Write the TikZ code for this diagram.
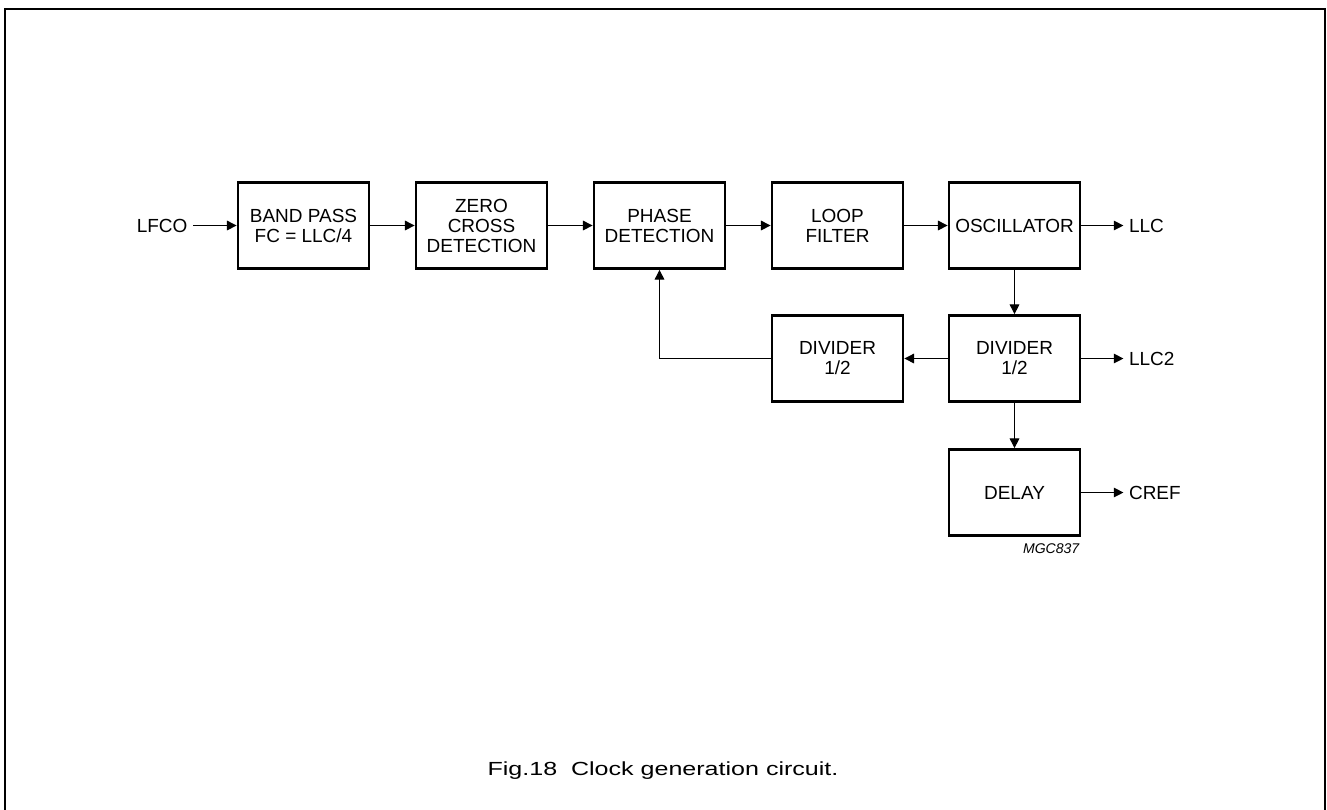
\documentclass[tikz,border=0pt]{standalone}
\usepackage{fontspec}
\setmainfont{Liberation Sans}
\usetikzlibrary{positioning, arrows.meta, shapes}

\begin{document}
\begin{tikzpicture}[every node/.style={font=\fontsize{10.8}{11.4}\selectfont},
	block/.style={draw,line width=1.6pt,minimum width=2.62cm,minimum height=1.72cm,align=center,inner sep=0pt},
	sig/.style={line width=0.6pt,-{Triangle[length=5.5pt,width=5.5pt]}}]
\useasboundingbox (0,0) rectangle (26.54cm,-16.18cm);
\draw[line width=1.1pt] (0.1cm,-16.3cm) -- (0.1cm,-0.18cm) -- (26.5cm,-0.18cm) -- (26.5cm,-16.3cm);

\node(band)[block] at (6.07cm,-4.51cm) {BAND PASS\\FC = LLC/4};
\node(zero)[block,xshift=3.56cm] at (band) {ZERO\\CROSS\\DETECTION};
\node(phase)[block,xshift=3.56cm] at (zero) {PHASE\\DETECTION};
\node(loop)[block,xshift=3.56cm] at (phase) {LOOP\\FILTER};
\node(osc)[block,xshift=3.54cm] at (loop) {OSCILLATOR};

\node(divb)[block,yshift=-2.66cm] at (osc) {DIVIDER\\1/2};
\node(diva)[block,yshift=-2.66cm] at (loop) {DIVIDER\\1/2};
\node(delay)[block,yshift=-2.68cm] at (divb) {DELAY};
\node(mgc)[anchor=north east,font=\fontsize{8}{9}\selectfont\itshape,inner sep=1pt] at ([yshift=-0.1cm]delay.south east) {MGC837};

\node(lfco)[anchor=east,inner sep=3pt] at (3.86cm,-4.51cm) {LFCO};
\node(llc)[anchor=west,inner sep=3pt] at ([xshift=0.84cm]osc.east) {LLC};
\node(llc2)[anchor=west,inner sep=3pt] at ([xshift=0.84cm]divb.east) {LLC2};
\node(cref)[anchor=west,inner sep=3pt] at ([xshift=0.84cm]delay.east) {CREF};

\coordinate(fb) at (phase.south |- diva.west);

\draw[sig] (lfco) -- (band);
\draw[sig] (band) -- (zero);
\draw[sig] (zero) -- (phase);
\draw[sig] (phase) -- (loop);
\draw[sig] (loop) -- (osc);
\draw[sig] (osc) -- (llc);
\draw[sig] (osc) -- (divb);
\draw[sig] (divb) -- (llc2);
\draw[sig] (divb) -- (diva);
\draw[sig] (divb) -- (delay);
\draw[sig] (delay) -- (cref);
\draw[sig] (diva.west) -- (fb) -- (phase.south);

\node(caption)[xscale=1.32,transform shape] at (13.26cm,-15.42cm) {Fig.18\ \ Clock generation circuit.};
\end{tikzpicture}
\end{document}
